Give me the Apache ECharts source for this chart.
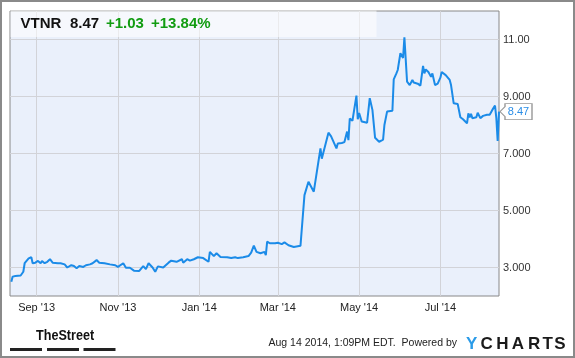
<!DOCTYPE html>
<html>
<head>
<meta charset="utf-8">
<script src="https://cdn.jsdelivr.net/npm/echarts@6/dist/echarts.min.js"></script>
<style>
html,body{margin:0;padding:0;background:#fff;}
#chart{width:575px;height:358px;}
</style>
</head>
<body>
<div id="chart"></div>
<script>
var dates = [
'2013-08-13','2013-08-14','2013-08-16','2013-08-20','2013-08-22','2013-08-23','2013-08-26','2013-08-28','2013-08-29','2013-08-31',
'2013-09-02','2013-09-04','2013-09-05','2013-09-07','2013-09-09','2013-09-11','2013-09-13','2013-09-17','2013-09-19','2013-09-22',
'2013-09-24','2013-09-27','2013-09-29','2013-10-01','2013-10-03','2013-10-06','2013-10-08','2013-10-11','2013-10-13','2013-10-16',
'2013-10-18','2013-10-22','2013-10-26','2013-10-30','2013-11-01','2013-11-05','2013-11-07','2013-11-10','2013-11-13','2013-11-17',
'2013-11-20','2013-11-22','2013-11-24','2013-11-27','2013-11-29','2013-12-01','2013-12-05','2013-12-09','2013-12-11','2013-12-15',
'2013-12-19','2013-12-20','2013-12-23','2013-12-25','2013-12-28','2013-12-31','2014-01-04','2014-01-08','2014-01-09','2014-01-12',
'2014-01-14','2014-01-17','2014-01-22','2014-01-25','2014-01-28','2014-01-30','2014-02-03','2014-02-07','2014-02-09','2014-02-11',
'2014-02-13','2014-02-16','2014-02-19','2014-02-20','2014-02-21','2014-02-23','2014-02-27','2014-03-01','2014-03-04','2014-03-06',
'2014-03-09','2014-03-13','2014-03-18','2014-03-21','2014-03-24','2014-03-25','2014-03-28','2014-04-02','2014-04-03','2014-04-08',
'2014-04-10','2014-04-14','2014-04-15','2014-04-18','2014-04-20','2014-04-22','2014-04-23','2014-04-24','2014-04-26','2014-04-29',
'2014-04-30','2014-05-01','2014-05-03','2014-05-07','2014-05-09','2014-05-11','2014-05-13','2014-05-16','2014-05-19','2014-05-20',
'2014-05-21','2014-05-22','2014-05-26','2014-05-27','2014-05-29','2014-05-30','2014-06-01','2014-06-03','2014-06-04','2014-06-06',
'2014-06-08','2014-06-09','2014-06-10','2014-06-11','2014-06-14','2014-06-16','2014-06-18','2014-06-19','2014-06-20','2014-06-22',
'2014-06-24','2014-06-25','2014-06-27','2014-06-29','2014-07-01','2014-07-02','2014-07-03','2014-07-05','2014-07-08','2014-07-09',
'2014-07-11','2014-07-14','2014-07-16','2014-07-18','2014-07-19','2014-07-21','2014-07-22','2014-07-23','2014-07-24','2014-07-25',
'2014-07-28','2014-07-29','2014-07-31','2014-08-02','2014-08-05','2014-08-06','2014-08-07','2014-08-09','2014-08-11','2014-08-12',
'2014-08-13','2014-08-14'
];
var prices = [
2.50,2.68,2.70,2.72,2.85,3.15,3.32,3.36,3.15,3.17,
3.23,3.15,3.23,3.15,3.20,3.29,3.17,3.15,3.15,3.11,
3.00,3.08,3.05,2.97,3.05,3.02,3.08,3.11,3.15,3.26,
3.17,3.15,3.11,3.08,3.02,3.15,2.99,2.99,2.89,2.88,
3.05,2.94,3.15,3.00,2.85,3.04,3.00,3.17,3.24,3.20,
3.29,3.17,3.29,3.24,3.29,3.36,3.33,3.20,3.55,3.40,
3.50,3.37,3.36,3.33,3.36,3.33,3.36,3.40,3.52,3.77,
3.55,3.50,3.55,3.43,3.91,3.85,3.85,3.87,3.82,3.88,
3.78,3.72,3.76,5.54,6.01,6.07,5.66,7.18,6.82,7.73,
7.60,7.18,7.35,7.37,7.40,7.77,7.47,8.23,8.15,9.03,
8.20,8.42,8.12,8.08,8.94,8.53,7.55,7.41,7.49,8.00,
8.03,8.47,8.50,9.60,9.81,9.93,10.52,10.35,11.08,9.52,
9.40,9.34,9.58,9.49,9.45,9.38,10.07,9.81,9.95,9.86,
9.69,9.81,9.40,9.45,9.66,9.86,9.90,9.75,9.58,9.40,
8.76,8.74,8.27,8.20,8.27,8.06,8.41,8.27,8.39,8.24,
8.27,8.43,8.24,8.32,8.36,8.43,8.36,8.53,8.68,8.24,
7.44,8.47
];
var xRange = ['2013-08-12', '2014-08-14'];
var xTickDates = ['2013-09-01','2013-11-01','2014-01-01','2014-03-01','2014-05-01','2014-07-01'];
var xTickLabels = ["Sep '13","Nov '13","Jan '14","Mar '14","May '14","Jul '14"];
var yTickValues = [3, 5, 7, 9, 11];
var yTickLabels = ['3.000','5.000','7.000','9.000','11.00'];
var yRange = [2, 12];
var ticker = 'VTNR';
var lastPrice = '8.47';
var change = '+1.03';
var changePct = '+13.84%';
var stamp = 'Aug 14 2014, 1:09PM EDT.  Powered by';

function parseDay(s) { var p = s.split('-'); return Date.UTC(+p[0], +p[1] - 1, +p[2]); }
var seriesData = dates.map(function (d, i) { return [parseDay(d), prices[i]]; });
var xTickTs = xTickDates.map(parseDay);

var FONT = '"Liberation Sans", Arial, sans-serif';
var chart = echarts.init(document.getElementById('chart'), null, {renderer: 'canvas'});

var ychartsLetters = [
  {t: 'Y', x: 471.7, c: '#2a9be8'},
  {t: 'C', x: 486.7, c: '#1a1a1a'},
  {t: 'H', x: 502.5, c: '#1a1a1a'},
  {t: 'A', x: 518, c: '#1a1a1a'},
  {t: 'R', x: 534.2, c: '#1a1a1a'},
  {t: 'T', x: 547.8, c: '#1a1a1a'},
  {t: 'S', x: 560, c: '#1a1a1a'}
];

var graphics = [
  {type: 'rect', z: 100, silent: true, shape: {x: 1, y: 1, width: 573, height: 356},
   style: {fill: 'none', stroke: '#8a8a8a', lineWidth: 2}},
  {type: 'rect', z: 5, silent: true, shape: {x: 10.5, y: 10.5, width: 366, height: 26.5},
   style: {fill: 'rgba(255,255,255,0.55)'}},
  {type: 'text', z: 10, style: {text: ticker, x: 20.5, y: 24, font: 'bold 15px ' + FONT, fill: '#111', verticalAlign: 'middle'}},
  {type: 'text', z: 10, style: {text: lastPrice, x: 70, y: 24, font: 'bold 15px ' + FONT, fill: '#111', verticalAlign: 'middle'}},
  {type: 'text', z: 10, style: {text: change, x: 106, y: 24, font: 'bold 15px ' + FONT, fill: '#129c12', verticalAlign: 'middle'}},
  {type: 'text', z: 10, style: {text: changePct, x: 151, y: 24, font: 'bold 15px ' + FONT, fill: '#129c12', verticalAlign: 'middle'}},
  {type: 'text', z: 10, x: 36, y: 336, scaleX: 0.84,
   style: {text: 'TheStreet', x: 0, y: 0, font: 'bold 15px ' + FONT, fill: '#111', verticalAlign: 'middle'}},
  {type: 'rect', z: 10, shape: {x: 10, y: 348, width: 32, height: 3}, style: {fill: '#222'}},
  {type: 'rect', z: 10, shape: {x: 47, y: 348, width: 32, height: 3}, style: {fill: '#222'}},
  {type: 'rect', z: 10, shape: {x: 83.5, y: 348, width: 32, height: 3}, style: {fill: '#222'}},
  {type: 'text', z: 10, style: {text: stamp, x: 268.5, y: 343.5, font: '10.5px ' + FONT, fill: '#222', verticalAlign: 'middle'}}
];
ychartsLetters.forEach(function (l) {
  graphics.push({type: 'text', z: 10, style: {text: l.t, x: l.x, y: 344, font: 'bold 17px ' + FONT, fill: l.c, align: 'center', verticalAlign: 'middle'}});
});

chart.setOption({
  animation: false,
  grid: {left: 10, right: 76, top: 11, bottom: 62, show: true, backgroundColor: '#eaf0fb', borderColor: '#888', borderWidth: 1, z: 0},
  xAxis: {
    type: 'value', min: parseDay(xRange[0]), max: parseDay(xRange[1]),
    axisLine: {show: false},
    axisTick: {show: false, customValues: xTickTs},
    splitLine: {show: true, lineStyle: {color: '#d2d3d8', width: 1}},
    axisLabel: {
      customValues: xTickTs, margin: 6, color: '#222', fontSize: 11, fontFamily: FONT,
      formatter: function (v) {
        for (var i = 0; i < xTickTs.length; i++) { if (Math.abs(xTickTs[i] - v) < 43200000) return xTickLabels[i]; }
        return '';
      }
    }
  },
  yAxis: {
    type: 'value', position: 'right', min: yRange[0], max: yRange[1],
    axisLine: {show: false},
    axisTick: {show: false, customValues: yTickValues},
    splitLine: {show: true, lineStyle: {color: '#d2d3d8', width: 1}},
    axisLabel: {
      customValues: yTickValues, margin: 4, color: '#333', fontSize: 11, fontFamily: FONT,
      formatter: function (v) { var i = yTickValues.indexOf(Math.round(v)); return i >= 0 ? yTickLabels[i] : ''; }
    }
  },
  series: [{
    type: 'line', data: seriesData, showSymbol: false, z: 3,
    lineStyle: {color: '#1b8be8', width: 2}, itemStyle: {color: '#1b8be8'},
    markPoint: {
      silent: true, z: 20,
      symbol: 'path://M0,8 L5,3 L5,0 L32,0 L32,16 L5,16 L5,13 Z',
      symbolSize: [32, 16], symbolOffset: [17, 0], symbolKeepAspect: false,
      itemStyle: {color: '#ffffff', borderColor: '#999', borderWidth: 1},
      label: {show: true, position: 'inside', offset: [2.5, 0], color: '#2a8de6', fontSize: 11, fontFamily: FONT,
              formatter: function () { return lastPrice; }},
      data: [{coord: seriesData[seriesData.length - 1]}]
    }
  }],
  graphic: graphics
});
</script>
</body>
</html>
